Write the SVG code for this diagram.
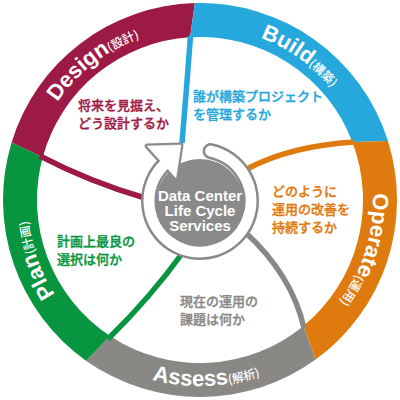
<svg xmlns="http://www.w3.org/2000/svg" width="400" height="400" viewBox="0 0 400 400">
<style>
.ring{font-family:"Liberation Sans",Arial,sans-serif;font-weight:bold;font-size:22px;fill:#fff}
.ring .jp{font-family:"Noto Sans CJK JP",sans-serif;font-size:12px;font-weight:500}
.q{font-family:"Noto Sans CJK JP",sans-serif;font-size:13px;font-weight:500;stroke-width:0.35}
.ctr{font-family:"Liberation Sans",Arial,sans-serif;font-weight:bold;font-size:15px;fill:#fff;text-anchor:middle}
.div{fill:none;stroke-width:5.5}
</style>
<defs>
<path id="pDesign" d="M 39.60 135.19 A 173 173 0 0 1 175.92 28.68"/>
<path id="pBuild" d="M 215.08 27.66 A 173 173 0 0 1 356.79 126.89"/>
<path id="pOperate" d="M 368.57 161.08 A 173 173 0 0 1 317.99 326.52"/>
<path id="pPlan" d="M 88.80 332.53 A 173 173 0 0 1 29.63 169.96"/>
<path id="pAssess" d="M 112.68 364.23 A 186 186 0 0 0 298.57 357.74"/>
</defs>
<rect width="400" height="400" fill="#fff"/>

<g id="design">
<path fill="#9E1A46" d="M 11.61 142.40 A 197 197 0 0 1 194.84 3.07 L 190.05 37.30 A 163 163 0 0 0 42.71 157.21 Z"/>
<text class="ring"><textPath href="#pDesign" startOffset="50%" text-anchor="middle">Design<tspan class="jp">(設計)</tspan></textPath></text>
<text class="q" fill="#9E1A46" stroke="#9E1A46"><tspan x="78" y="110">将来を見据え、</tspan><tspan x="78" y="128">どう設計するか</tspan></text>
</g>

<g id="build">
<path fill="#27A8DC" d="M 194.84 3.07 A 197 197 0 0 1 387.97 141.02 L 352.29 141.90 A 163 163 0 0 0 190.05 37.30 Z"/>
<text class="ring"><textPath href="#pBuild" startOffset="50%" text-anchor="middle">Build<tspan class="jp">(構築)</tspan></textPath></text>
<text class="q" fill="#27A8DC" stroke="#27A8DC"><tspan x="193" y="101">誰が構築プロジェクト</tspan><tspan x="193" y="119">を管理するか</tspan></text>
</g>

<g id="operate">
<path fill="#DF7A0E" d="M 387.97 141.02 A 197 197 0 0 1 315.60 359.52 L 303.48 325.94 A 163 163 0 0 0 352.29 141.90 Z"/>
<text class="ring"><textPath href="#pOperate" startOffset="50%" text-anchor="middle">Operate<tspan class="jp">(運用)</tspan></textPath></text>
<text class="q" fill="#DF7A0E" stroke="#DF7A0E"><tspan x="272" y="196">どのように</tspan><tspan x="272" y="214">運用の改善を</tspan><tspan x="272" y="232">持続するか</tspan></text>
</g>

<g id="assess">
<path fill="#8A8884" d="M 315.60 359.52 A 197 197 0 0 1 85.97 360.64 L 110.06 335.94 A 163 163 0 0 0 303.48 325.94 Z"/>
<text class="ring"><textPath href="#pAssess" startOffset="50%" text-anchor="middle">Assess<tspan class="jp">(解析)</tspan></textPath></text>
<text class="q" fill="#8A8884" stroke="#8A8884"><tspan x="180" y="306">現在の運用の</tspan><tspan x="180" y="324">課題は何か</tspan></text>
</g>

<g id="plan">
<path fill="#07953F" d="M 85.97 360.64 A 197 197 0 0 1 11.61 142.40 L 42.71 157.21 A 163 163 0 0 0 110.06 335.94 Z"/>
<text class="ring"><textPath href="#pPlan" startOffset="50%" text-anchor="middle">Plan<tspan class="jp">(計画)</tspan></textPath></text>
<text class="q" fill="#07953F" stroke="#07953F"><tspan x="57" y="246">計画上最良の</tspan><tspan x="57" y="264">選択は何か</tspan></text>
</g>

<g id="connectors">
<path class="div" stroke="#27A8DC" d="M 190.5 36 Q 186.5 90 182 143"/>
<path class="div" stroke="#DF7A0E" d="M 354 142 Q 290 146 247 169"/>
<path class="div" stroke="#8A8884" stroke-width="6.5" d="M 304 328 Q 292 275 245 232"/>
<path class="div" stroke="#07953F" d="M 108 339 Q 150 298 184 251"/>
<path class="div" stroke="#9E1A46" d="M 40 156 Q 90 182 145 198"/>
</g>

<g id="center">
<circle cx="200" cy="203" r="44" fill="#8A8A8A"/>
<path d="M 210.60 151.11 A 51 51 0 1 1 163.31 165.57" fill="none" stroke="#8A8A8A" stroke-width="16" stroke-linecap="round"/>
<polygon points="147,146 181,145 176,178" fill="#8A8A8A" stroke="#8A8A8A" stroke-width="5" stroke-linejoin="round"/>
<path d="M 210.60 151.11 A 51 51 0 1 1 163.31 165.57" fill="none" stroke="#fff" stroke-width="11" stroke-linecap="round"/>
<polygon points="147,146 181,145 176,178" fill="#fff" stroke="#fff" stroke-width="0.5" stroke-linejoin="round"/>
<text class="ctr"><tspan x="200" y="201">Data Center</tspan><tspan x="200" y="216">Life Cycle</tspan><tspan x="200" y="231">Services</tspan></text>
</g>
</svg>
